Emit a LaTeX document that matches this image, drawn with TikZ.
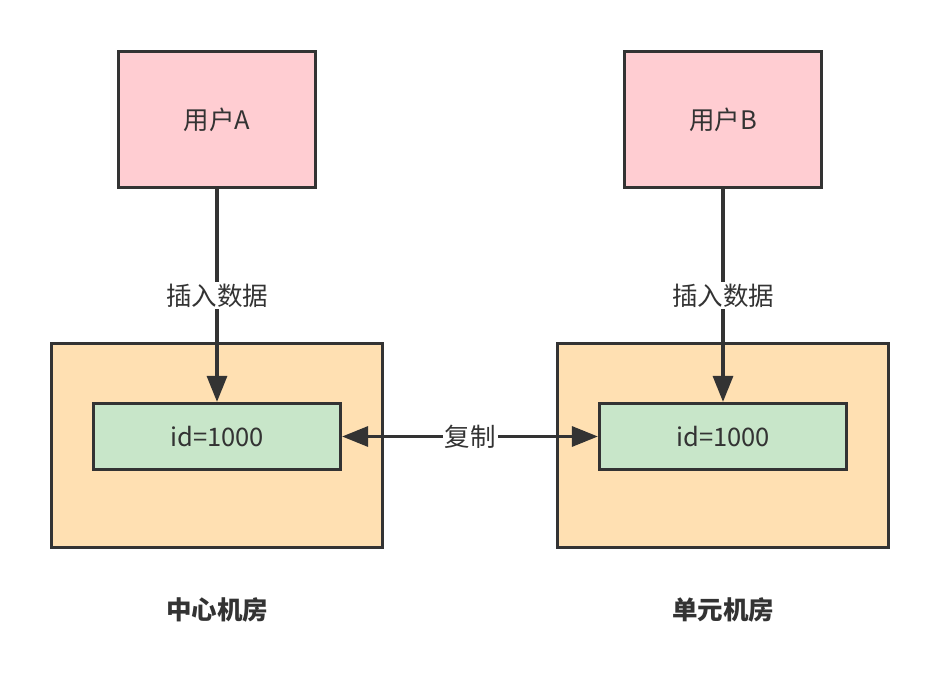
\documentclass[tikz,border=0pt]{standalone}
\usepackage{fontspec}
\setmainfont{Noto Sans CJK SC}
\usetikzlibrary{arrows.meta}
\definecolor{stroke}{HTML}{333333}
\definecolor{pinkfill}{HTML}{FFCDD2}
\definecolor{orangefill}{HTML}{FFE0B2}
\definecolor{greenfill}{HTML}{C8E6C9}
\tikzset{
  box/.style={draw=stroke, line width=3.2pt, inner sep=0pt, text=stroke, font=\fontsize{25.5}{30}\selectfont},
  userbox/.style={box, fill=pinkfill, minimum width=197pt, minimum height=136pt},
  roombox/.style={box, fill=orangefill, minimum width=331pt, minimum height=204pt},
  databox/.style={box, fill=greenfill, minimum width=247pt, minimum height=66pt},
  conn/.style={draw=stroke, line width=3.2pt, -{Triangle[length=26pt,width=20pt]}},
  lbl/.style={fill=white, text=stroke, inner sep=2pt, font=\fontsize{25.5}{30}\selectfont},
  caption/.style={text=stroke, font=\fontsize{25.5}{30}\selectfont\bfseries}
}
\begin{document}
\begin{tikzpicture}[x=1pt,y=-1pt]
\useasboundingbox (0,0) rectangle (940,700);
\node[userbox] (ua) at (217,119.5) {用户A};
\node[userbox] (ub) at (723,119.5) {用户B};
\node[roombox] (ra) at (217,445.5) {};
\node[roombox] (rb) at (723,445.5) {};
\node[databox] (ga) at (217,436.5) {id=1000};
\node[databox] (gb) at (723,436.5) {id=1000};
\draw[conn] (ua.south) -- node[lbl, pos=0.5] {插入数据} (ga.north);
\draw[conn] (ub.south) -- node[lbl, pos=0.5] {插入数据} (gb.north);
\draw[conn, {Triangle[length=26pt,width=20pt]}-{Triangle[length=26pt,width=20pt]}] (ga.east) -- node[lbl] {复制} (gb.west);
\node[caption] (ca) at (217,610) {中心机房};
\node[caption] (cb) at (723,610) {单元机房};
\end{tikzpicture}
\end{document}
